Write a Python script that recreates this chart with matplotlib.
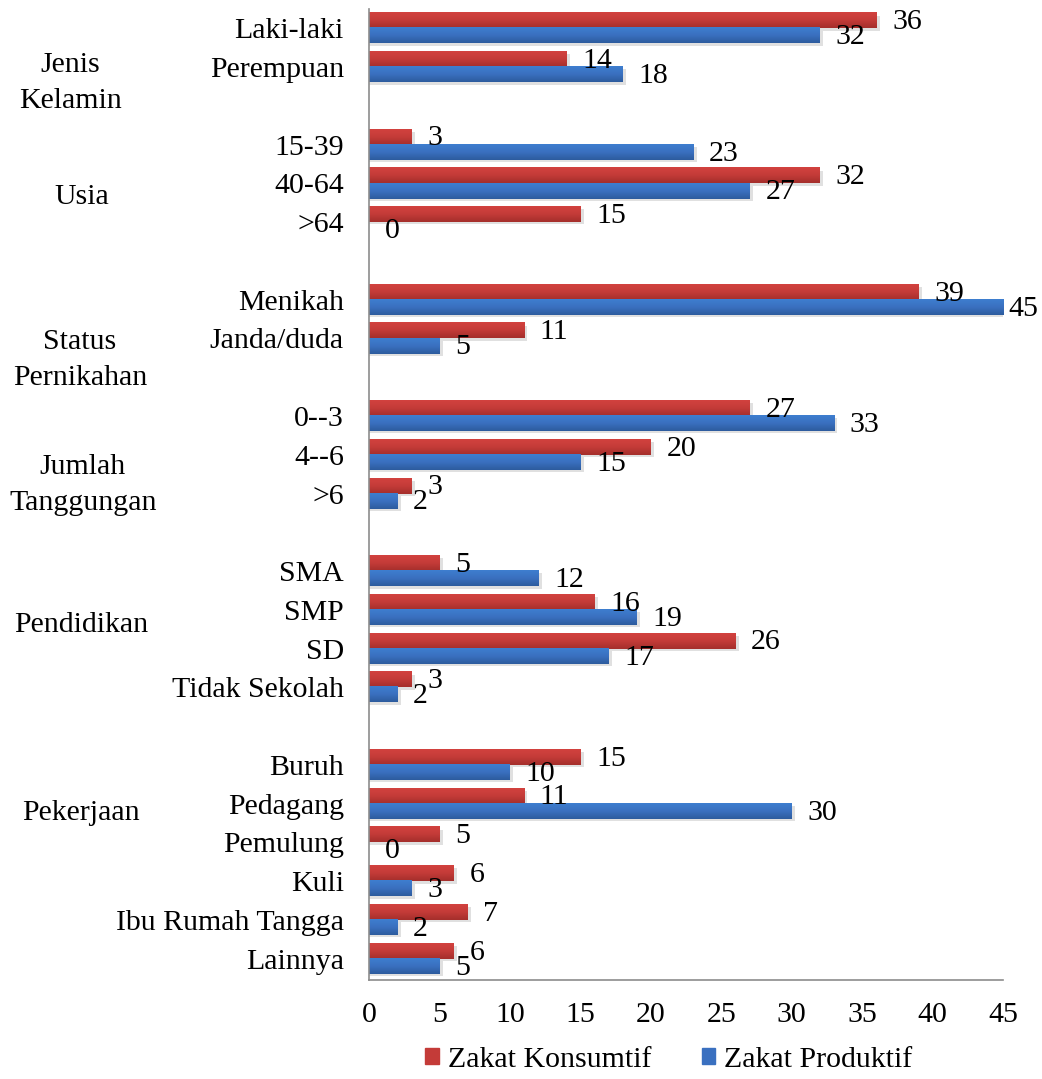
import numpy as np
import matplotlib.pyplot as plt
from matplotlib.patches import Patch
from matplotlib.colors import LinearSegmentedColormap

plt.rcParams['font.family'] = ['Liberation Serif', 'DejaVu Serif']

# groups and categories (top to bottom)
groups = ['Jenis\nKelamin', 'Usia', 'Status\nPernikahan', 'Jumlah\nTanggungan', 'Pendidikan', 'Pekerjaan']
categories = [
    ['Laki-laki', 'Perempuan'],
    ['15-39', '40-64', '>64'],
    ['Menikah', 'Janda/duda'],
    ['0--3', '4--6', '>6'],
    ['SMA', 'SMP', 'SD', 'Tidak Sekolah'],
    ['Buruh', 'Pedagang', 'Pemulung', 'Kuli', 'Ibu Rumah Tangga', 'Lainnya'],
]
konsumtif = [
    [36, 14],
    [3, 32, 15],
    [39, 11],
    [27, 20, 3],
    [5, 16, 26, 3],
    [15, 11, 5, 6, 7, 6],
]
produktif = [
    [32, 18],
    [23, 27, 0],
    [45, 5],
    [33, 15, 2],
    [12, 19, 17, 2],
    [10, 30, 0, 3, 2, 5],
]

# placement of the group labels (row offset from group start, x in data units)
group_label_offset = [1.42, 1.36, 1.55, 1.78, 1.4, 1.25]
group_label_x = [-21.2, -20.4, -20.5, -20.3, -20.4, -20.4]

red = '#C43B38'
blue = '#3A70C0'
red_grad = LinearSegmentedColormap.from_list('r', ['#D2423F', '#C43B38', '#A52F2C'])
blue_grad = LinearSegmentedColormap.from_list('b', ['#3E7ECF', '#3A70C0', '#2D5C9E'])
fs = 21.5
xmax = 45

fig = plt.figure(figsize=(10.42, 10.79), dpi=100)
ax = fig.add_axes([0.354, 0.0917, 0.6086, 0.9])

rows = []
labels = []
k_vals = []
p_vals = []
group_rows = []
r = 0
for gi, cats in enumerate(categories):
    group_rows.append(r)
    for ci, c in enumerate(cats):
        rows.append(r)
        labels.append(c)
        k_vals.append(konsumtif[gi][ci])
        p_vals.append(produktif[gi][ci])
        r += 1
    r += 1  # blank row between groups

rows = np.array(rows)
h = 0.39
bars_k = ax.barh(rows - h / 2, k_vals, height=h, color='none')
bars_p = ax.barh(rows + h / 2, p_vals, height=h, color='none')

# vertical gradient + soft shadow like the office chart
grad = np.linspace(0, 1, 32).reshape(-1, 1)
for bars, cmap in [(bars_k, red_grad), (bars_p, blue_grad)]:
    for b in bars:
        x0, y0, w, hh = b.get_x(), b.get_y(), b.get_width(), b.get_height()
        if w <= 0:
            continue
        ax.add_patch(plt.Rectangle((x0, y0 + 0.06), w + 0.25, hh, color='#000000',
                                   alpha=0.12, lw=0, zorder=1))
        ax.imshow(grad, cmap=cmap, aspect='auto', extent=(x0, x0 + w, y0 + hh, y0),
                  interpolation='bilinear', zorder=2)

def label_bars(ys, vals):
    for y, v in zip(ys, vals):
        dx = 3.5 if v >= xmax else 11.5  # label pushed in at the axis end
        ax.annotate(str(v), (v, y), xytext=(dx, -1), textcoords='offset points',
                    ha='left', va='center', fontsize=fs, clip_on=False, zorder=4)

label_bars(rows - h / 2, k_vals)
label_bars(rows + h / 2, p_vals)

ax.set_ylim(r - 1 - 0.45, -0.5)
ax.set_xlim(0, xmax)
ax.set_xticks(np.arange(0, xmax + 1, 5))
ax.set_yticks(rows)
ax.set_yticklabels(labels, fontsize=fs)
ax.tick_params(axis='x', labelsize=fs, length=0, pad=16)
ax.tick_params(axis='y', length=0, pad=18)

for s in ['top', 'right']:
    ax.spines[s].set_visible(False)
ax.spines['left'].set_color('#8c8c8c')
ax.spines['bottom'].set_color('#8c8c8c')
ax.spines['left'].set_linewidth(1.2)
ax.spines['bottom'].set_linewidth(1.2)
ax.spines['left'].set_zorder(3)

# group labels on the far left
for g, gr, off, gx in zip(groups, group_rows, group_label_offset, group_label_x):
    ax.text(gx, gr + off, g, ha='center', va='center', fontsize=fs,
            linespacing=1.5)

handles = [Patch(color=red), Patch(color=blue)]
fig.legend(handles, ['Zakat Konsumtif', 'Zakat Produktif'], loc='center',
           bbox_to_anchor=(0.642, 0.018), ncol=2, frameon=False, fontsize=fs,
           handlelength=0.45, handleheight=0.45, handletextpad=0.3, columnspacing=1.7)

plt.savefig('out.png', dpi=100)
